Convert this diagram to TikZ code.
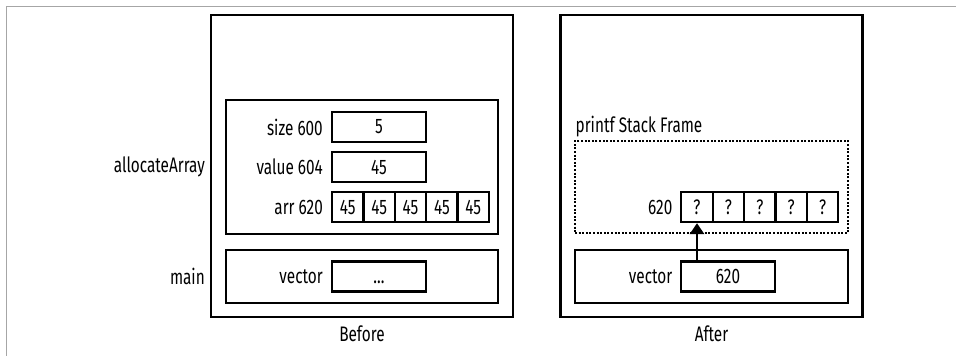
\documentclass[tikz,border=0pt]{standalone}
\usepackage{fontspec}
\setmainfont{Fira Sans}[FakeStretch=0.73]
\usetikzlibrary{arrows.meta}
\begin{document}
\begin{tikzpicture}[x=1pt,y=-1pt,
  txt/.style={font=\fontsize{21}{24}\selectfont, inner sep=0pt},
  frame/.style={draw, line width=2.7pt, inner sep=0pt},
  cellbox/.style={draw, line width=2.3pt, inner sep=0pt, minimum height=30pt, font=\fontsize{21}{24}\selectfont},
  wide/.style={cellbox, minimum width=94pt},
  narrow/.style={cellbox, minimum width=31.4pt},
  dotframe/.style={draw, line width=2.3pt, dash pattern=on 2pt off 1.6pt, inner sep=0pt}]
\useasboundingbox (0,0) rectangle (956,356);
\draw[gray!70, line width=1pt] (6,356) -- (6,6) -- (956,6);
% Before
\node[frame, minimum width=302pt, minimum height=302pt] (bouter) at (362,166) {};
\node[frame, minimum width=272pt, minimum height=134pt] (balloc) at (362,167) {};
\node[frame, minimum width=272pt, minimum height=53pt] (bmain) at (362,276.5) {};
\node[wide] (bsize) at (379,127) {5};
\node[wide] (bvalue) at (379,167) {45};
\foreach \i/\x in {1/347.7,2/379.1,3/410.5,4/441.9,5/473.3}
  \node[narrow] (ba\i) at (\x,207) {45};
\node[wide] (bvec) at (379,276.5) {\vphantom{0}...};
\node[txt, anchor=east] (lsize) at (323,127) {size 600};
\node[txt, anchor=east] (lvalue) at (323,167) {value 604};
\node[txt, anchor=east] (larr) at (323,207) {arr 620};
\node[txt, anchor=east] (lvec) at (323,276.5) {vector};
\node[txt, anchor=east] (lalloc) at (205,167) {allocateArray};
\node[txt, anchor=east] (lmain) at (205,276.5) {main};
\node[txt] (lbefore) at (362,334) {Before};
% After
\node[frame, minimum width=302pt, minimum height=302pt] (aouter) at (711.5,166) {};
\node[dotframe, minimum width=273pt, minimum height=92pt] (adot) at (711.5,187) {};
\node[txt, anchor=west] (lprintf) at (575.5,127) {printf Stack Frame};
\node[frame, minimum width=273pt, minimum height=53pt] (amain) at (711.5,276.5) {};
\foreach \i/\x in {1/697,2/728.4,3/759.8,4/791.2,5/822.6}
  \node[narrow] (aa\i) at (\x,207) {?};
\node[wide] (avec) at (728,276.5) {620};
\node[txt, anchor=east] (la620) at (672.5,207) {620};
\node[txt, anchor=east] (lavec) at (672.5,276.5) {vector};
\node[txt] (lafter) at (711.5,334) {After};
\draw[line width=2.7pt, -{Triangle[length=11pt,width=14pt]}] (avec.north -| aa1.south) -- (aa1.south);
\end{tikzpicture}
\end{document}
